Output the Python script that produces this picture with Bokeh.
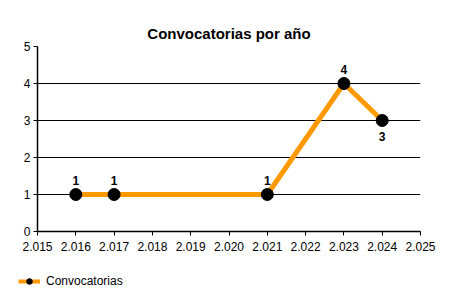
from bokeh.plotting import figure
from bokeh.layouts import column
from bokeh.models import ColumnDataSource, Legend, LegendItem, FixedTicker, Range1d, LabelSet
from bokeh.core.properties import value
from bokeh.embed import file_html
from bokeh.resources import INLINE

years = [2016, 2017, 2021, 2023, 2024]
values = [1, 1, 1, 4, 3]
label_offsets = [14, 14, 14, 14, -16]
x_ticks = list(range(2015, 2026))
x_tick_labels = ["2.015", "2.016", "2.017", "2.018", "2.019", "2.020", "2.021", "2.022", "2.023", "2.024", "2.025"]
y_ticks = [0, 1, 2, 3, 4, 5]
series_name = "Convocatorias"

FONT = "Liberation Sans"
ORANGE = "#FF9900"

src = ColumnDataSource(dict(x=years, y=values, t=[str(v) for v in values], dy=label_offsets))

p = figure(width=450, height=255, output_backend="svg", toolbar_location=None,
           x_range=Range1d(2015, 2025), y_range=Range1d(0, 5),
           min_border_left=37, min_border_right=30, min_border_top=46, min_border_bottom=24)
p.title.text = "Convocatorias por año"
p.title.align = "center"
p.title.text_font = FONT
p.title.text_font_size = "15px"
p.title.text_font_style = "bold"
p.title.text_color = "black"
p.outline_line_color = None

p.xaxis.ticker = FixedTicker(ticks=x_ticks)
p.xaxis.major_label_overrides = {t: l for t, l in zip(x_ticks, x_tick_labels)}
p.yaxis.ticker = FixedTicker(ticks=y_ticks)
for ax in (p.xaxis, p.yaxis):
    ax.axis_line_color = "black"
    ax.axis_line_width = 1.5
    ax.major_tick_line_color = "black"
    ax.major_tick_in = 0
    ax.major_tick_out = 4
    ax.minor_tick_line_color = None
    ax.major_label_text_font = FONT
    ax.major_label_text_font_size = "12px"
    ax.major_label_text_color = "black"
p.yaxis.major_label_standoff = 3
p.xaxis.major_label_standoff = 6

p.xgrid.grid_line_color = None
p.ygrid.grid_line_color = "black"
p.ygrid.grid_line_width = 1

ln = p.line("x", "y", source=src, line_color=ORANGE, line_width=5)
mk = p.scatter("x", "y", source=src, size=12, fill_color="black", line_color="black")

labels = LabelSet(x="x", y="y", text="t", y_offset="dy", source=src, text_align="center",
                  text_baseline="middle",
                  text_font=value(FONT), text_font_size=value("12px"), text_font_style="bold",
                  text_color="black")
p.add_layout(labels)

# legend strip below the chart (proxy renderers placed outside the visible range)
p2 = figure(width=450, height=45, output_backend="svg", toolbar_location=None,
            x_range=Range1d(0, 1), y_range=Range1d(0, 1),
            x_axis_location=None, y_axis_location=None,
            min_border_left=0, min_border_right=0, min_border_top=0, min_border_bottom=0)
p2.grid.visible = False
p2.outline_line_color = None

legend_x = -16
try:
    p.frame_align = False
    p2.frame_align = False
    legend_x = 18
except Exception:
    pass

proxy = ColumnDataSource(dict(x=[-5, -4], y=[-5, -5]))
l2 = p2.line("x", "y", source=proxy, line_color=ORANGE, line_width=4)
m2 = p2.scatter("x", "y", source=proxy, size=6, fill_color="black", line_color="black")
legend = Legend(items=[LegendItem(label=series_name, renderers=[l2, m2])],
                location=(legend_x, 12), orientation="horizontal",
                label_text_font=FONT, label_text_font_size="12px", label_text_color="black",
                border_line_color=None, background_fill_alpha=0,
                glyph_width=22, glyph_height=14, padding=2, margin=0, label_standoff=6)
p2.add_layout(legend, "center")

layout = column(p, p2, spacing=0)
open("out.html", "w").write(file_html(layout, INLINE))
